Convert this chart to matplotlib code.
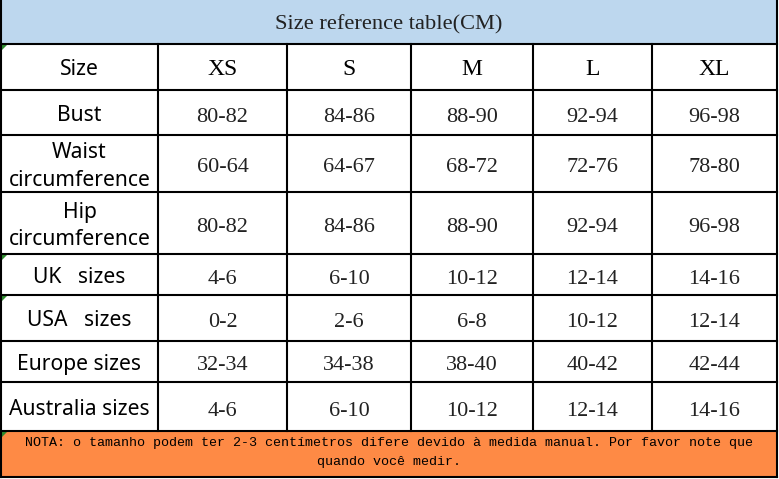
import matplotlib
matplotlib.use("Agg")
import matplotlib.pyplot as plt
from matplotlib.patches import Rectangle, Polygon

title = "Size reference table(CM)"
header_label = "Size"
sizes = ["XS", "S", "M", "L", "XL"]
row_labels = ["Bust", "Waist\ncircumference", "Hip\ncircumference",
              "UK   sizes", "USA   sizes", "Europe sizes", "Australia sizes"]
bust = ["80-82", "84-86", "88-90", "92-94", "96-98"]
waist = ["60-64", "64-67", "68-72", "72-76", "78-80"]
hip = ["80-82", "84-86", "88-90", "92-94", "96-98"]
uk = ["4-6", "6-10", "10-12", "12-14", "14-16"]
usa = ["0-2", "2-6", "6-8", "10-12", "12-14"]
europe = ["32-34", "34-38", "38-40", "40-42", "42-44"]
australia = ["4-6", "6-10", "10-12", "12-14", "14-16"]
note = ("NOTA: o tamanho podem ter 2-3 centímetros difere devido à medida manual. Por favor note que\n"
        "quando você medir.")

rows = [bust, waist, hip, uk, usa, europe, australia]

# layout (pixel positions)
W, H = 779, 479
col_edges = [1, 158, 287, 411, 533, 652, 777]
row_edges = [0, 44, 90, 135, 192, 254, 295, 341, 382, 431, 477]

fig = plt.figure(figsize=(W / 100, H / 100), dpi=100)
ax = fig.add_axes([0, 0, 1, 1])
ax.set_xlim(0, W)
ax.set_ylim(H, 0)
ax.axis("off")

lw = 1.5
blue = "#BDD7EE"
orange = "#FE8A45"

# title band
ax.add_patch(Rectangle((col_edges[0], row_edges[0]), col_edges[-1] - col_edges[0],
                       row_edges[1] - row_edges[0], facecolor=blue, edgecolor="none"))
# note band
ax.add_patch(Rectangle((col_edges[0], row_edges[-2]), col_edges[-1] - col_edges[0],
                       row_edges[-1] - row_edges[-2], facecolor=orange, edgecolor="none"))

# horizontal lines
for y in row_edges[1:]:
    ax.plot([col_edges[0], col_edges[-1]], [y, y], color="black", lw=lw, solid_capstyle="projecting")
# vertical lines: outer borders full height
for x in (col_edges[0], col_edges[-1]):
    ax.plot([x, x], [row_edges[0], row_edges[-1]], color="black", lw=lw, solid_capstyle="projecting")
for x in col_edges[1:-1]:
    ax.plot([x, x], [row_edges[1], row_edges[-2]], color="black", lw=lw)

# small green corner markers
for y in (row_edges[1], row_edges[5], row_edges[6], row_edges[-2]):
    ax.add_patch(Polygon([(col_edges[0] + 1, y + 1), (col_edges[0] + 6, y + 1), (col_edges[0] + 1, y + 6)],
                         closed=True, facecolor="#2E8B2E", edgecolor="none"))

serif = ["Liberation Serif", "DejaVu Serif"]
sans = ["Noto Sans", "DejaVu Sans"]
mono = ["Liberation Mono", "DejaVu Sans Mono"]

ax.text((col_edges[0] + col_edges[-1]) / 2, (row_edges[0] + row_edges[1]) / 2 + 3, title,
        ha="center", va="center", fontsize=16.1, family=serif, color="#222222")

def cx(i):
    return (col_edges[i] + col_edges[i + 1]) / 2

def cy(j):
    return (row_edges[j] + row_edges[j + 1]) / 2

# header row
ax.text(cx(0), cy(1) + 2, header_label, ha="center", va="center", fontsize=15.2, family=sans, color="black")
for i, s in enumerate(sizes):
    ax.text(cx(i + 1), cy(1) + 2, s, ha="center", va="center", fontsize=17, family=serif, color="black")

for r, (lab, vals) in enumerate(zip(row_labels, rows)):
    j = r + 2
    ax.text(cx(0), cy(j) + 3, lab, ha="center", va="center", fontsize=15.2, family=sans,
            color="black", linespacing=1.38)
    for i, v in enumerate(vals):
        ax.text(cx(i + 1), cy(j) + 4.5, v, ha="center", va="center", fontsize=16,
                family=serif, color="#222222")

ax.text((col_edges[0] + col_edges[-1]) / 2, cy(len(row_edges) - 2) - 1.5, note, ha="center", va="center",
        fontsize=9.6, family=mono, color="black", linespacing=1.85)

fig.savefig("out.png", dpi=100, facecolor="white")
